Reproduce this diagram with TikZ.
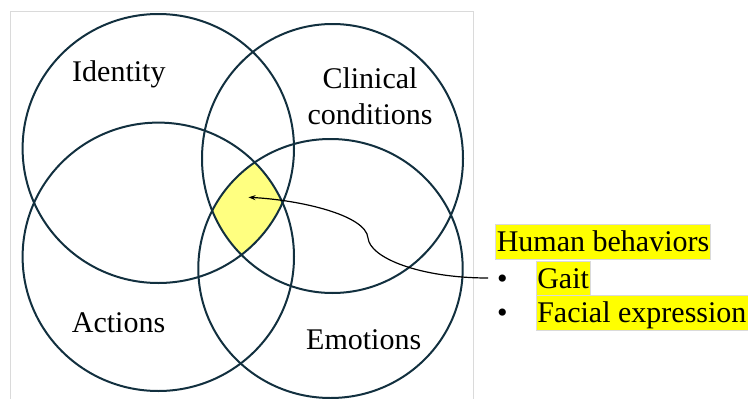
\documentclass[tikz,border=0pt]{standalone}
\usepackage{fontspec}
\setmainfont{Liberation Serif}
\usetikzlibrary{arrows.meta}
\definecolor{ring}{RGB}{18,48,63}
\definecolor{lens}{RGB}{255,255,128}
\definecolor{hl}{RGB}{255,255,0}
\definecolor{framegray}{RGB}{218,218,218}
\tikzset{
  ringline/.style={draw=ring, line width=2pt},
  lbl/.style={font=\fontsize{30}{36}\selectfont, anchor=base west, inner sep=0pt},
  hlbox/.style={font=\fontsize{30}{36}\selectfont, anchor=base west, fill=hl, draw=framegray, line width=0.6pt,
     inner xsep=1.5pt, inner ysep=0pt, text height=27pt, text depth=7.5pt},
}
\begin{document}
\begin{tikzpicture}[x=1pt,y=-1pt]
\useasboundingbox (0,0) rectangle (748,399);
% frame
\draw[framegray, line width=0.8pt] (10,402) -- (10,11) -- (473,11) -- (473,402);
% yellow lens
\begin{scope}
  \clip (158.3,148.5) ellipse [x radius=135.7, y radius=134.5];
  \clip (332.5,158.5) ellipse [x radius=130.5, y radius=134.5];
  \clip (158.3,256.8) ellipse [x radius=135.7, y radius=134.2];
  \clip (330.5,268.5) ellipse [x radius=132.2, y radius=129.5];
  \fill[lens] (150,100) rectangle (350,300);
\end{scope}
% circles
\draw[ringline] (158.3,148.5) ellipse [x radius=135.7, y radius=134.5];
\draw[ringline] (332.5,158.5) ellipse [x radius=130.5, y radius=134.5];
\draw[ringline] (158.3,256.8) ellipse [x radius=135.7, y radius=134.2];
\draw[ringline] (330.5,268.5) ellipse [x radius=132.2, y radius=129.5];
% labels
\node[lbl] (identity) at (72,81) {Identity};
\node[lbl, anchor=base] (clin1) at (370,88.3) {Clinical};
\node[lbl, anchor=base] (clin2) at (370,124.3) {conditions};
\node[lbl] (actions) at (71.7,332) {Actions};
\node[lbl] (emotions) at (306,349) {Emotions};
% legend
\node[hlbox] (hb) at (495,251.7) {Human behaviors};
\node[lbl] (b1) at (497,288.3) {\textbullet};
\node[hlbox] (gait) at (535.5,288.3) {Gait};
\node[lbl] (b2) at (497,322.7) {\textbullet};
\node[hlbox] (facial) at (535.5,322.7) {Facial expression};
% arrow
\coordinate (tail) at (488,278);
\coordinate (tip) at (248.5,197.3);
\draw[line width=1.2pt, -{Stealth[length=7pt,width=5pt]}] (tail) .. controls (420,278) and (370,258) .. (368,238)
   .. controls (366,215) and (300,200) .. (tip);
\end{tikzpicture}
\end{document}
